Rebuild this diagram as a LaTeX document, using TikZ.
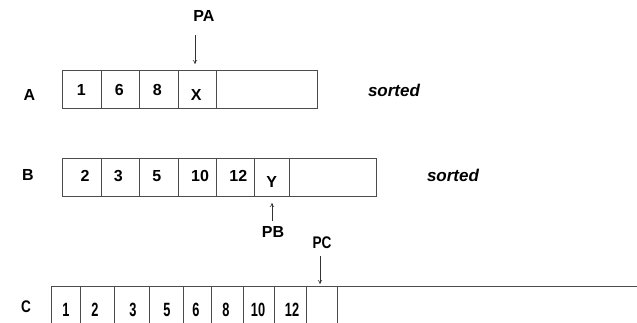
\documentclass[tikz,border=0pt]{standalone}
\usepackage{fontspec}
\usepackage{graphicx}
\setmainfont{Liberation Sans}
\usetikzlibrary{arrows.meta}
\begin{document}
\begin{tikzpicture}[x=1pt,y=-1pt,
  cellbox/.style={draw=black!70,line width=0.8pt},
  lbl/.style={inner sep=0pt,font=\fontsize{16}{16}\selectfont\bfseries},
  slbl/.style={inner sep=0pt,font=\fontsize{17}{17}\selectfont\bfseries\itshape},
  ptr/.style={draw=black!80,line width=0.6pt,-{To[length=4pt,width=4.5pt]}}]
\useasboundingbox (0,0) rectangle (637,323);
\clip (0,0) rectangle (637,323);
% Row A
\foreach \a/\b in {62/101,101/139,139/178,178/216,216/317}
  \draw[cellbox] (\a,70) rectangle (\b,108);
\node[lbl] (la) at (29.5,95) {A};
\node[lbl] (a1) at (81.3,90) {1};
\node[lbl] (a2) at (119.3,90) {6};
\node[lbl] (a3) at (157.3,90) {8};
\node[lbl] (a4) at (196.3,94.5) {X};
\node[slbl] (sa) at (394,90) {sorted};
\node[lbl] (pa) at (204,16) {PA};
\coordinate (pas) at (195,35);
\coordinate (pae) at (195,64);
\draw[ptr] (pas) -- (pae);
% Row B
\foreach \a/\b in {62/101,101/139,139/178,178/216,216/254,254/289,289/376}
  \draw[cellbox] (\a,158) rectangle (\b,196);
\node[lbl] (lb) at (28,175) {B};
\node[lbl] (b1) at (85,176) {2};
\node[lbl] (b2) at (118.3,176) {3};
\node[lbl] (b3) at (156.7,176) {5};
\node[lbl] (b4) at (200,176) {10};
\node[lbl] (b5) at (238.3,176) {12};
\node[lbl] (b6) at (271.7,182) {Y};
\node[slbl] (sb) at (453,175) {sorted};
\node[lbl] (pb) at (273,232) {PB};
\coordinate (pbs) at (272,221);
\coordinate (pbe) at (272,203);
\draw[ptr] (pbs) -- (pbe);
% Row C
\draw[cellbox] (51,340) -- (51,286) -- (640,286);
\foreach \a in {80,114,149,183,211,243,274,306,337}
  \draw[cellbox] (\a,286) -- (\a,340);
\node[lbl] (lc) at (26,307) {\scalebox{0.85}[1.05]{C}};
\foreach \x/\t [count=\i] in {66/1,95/2,133/3,167/5,196/6,226/8,258/10,292/12}
  \node[lbl] (c\i) at (\x,310) {\scalebox{0.8}[1.2]{\t}};
\node[lbl] (pc) at (322,243) {\scalebox{0.85}[1.05]{PC}};
\coordinate (pcs) at (320,256);
\coordinate (pce) at (320,284);
\draw[ptr] (pcs) -- (pce);
\end{tikzpicture}
\end{document}
